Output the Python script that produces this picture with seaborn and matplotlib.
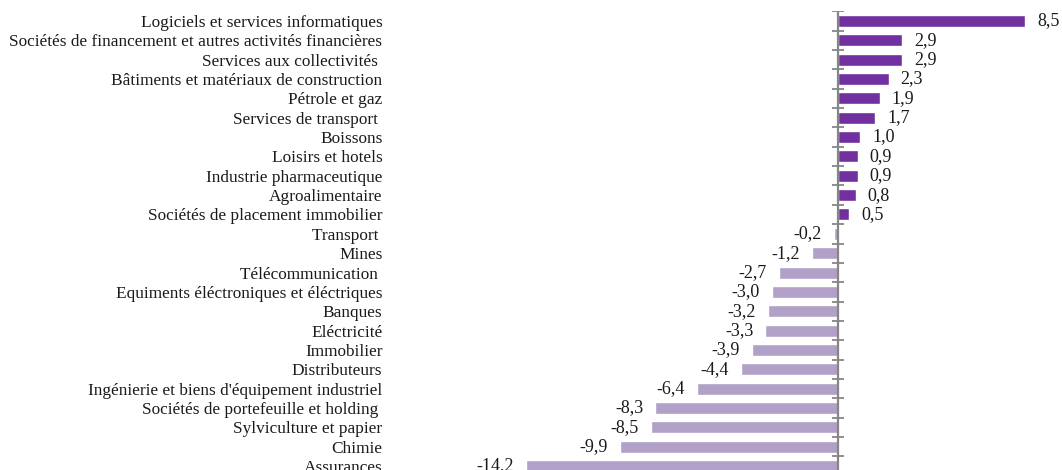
import matplotlib
matplotlib.use("Agg")
import matplotlib.pyplot as plt
import seaborn as sns
import pandas as pd
import numpy as np

sectors = [
    "Logiciels et services informatiques",
    "Sociétés de financement et autres activités financières",
    "Services aux collectivités ",
    "Bâtiments et matériaux de construction",
    "Pétrole et gaz",
    "Services de transport ",
    "Boissons",
    "Loisirs et hotels",
    "Industrie pharmaceutique",
    "Agroalimentaire",
    "Sociétés de placement immobilier",
    "Transport ",
    "Mines",
    "Télécommunication ",
    "Equiments éléctroniques et éléctriques",
    "Banques",
    "Eléctricité",
    "Immobilier",
    "Distributeurs",
    "Ingénierie et biens d'équipement industriel",
    "Sociétés de portefeuille et holding ",
    "Sylviculture et papier",
    "Chimie",
    "Assurances",
]
variation = [8.5, 2.9, 2.9, 2.3, 1.9, 1.7, 1.0, 0.9, 0.9, 0.8, 0.5,
             -0.2, -1.2, -2.7, -3.0, -3.2, -3.3, -3.9, -4.4, -6.4,
             -8.3, -8.5, -9.9, -14.2]

POS_COLOR = "#7030A0"
NEG_COLOR = "#B1A0C7"
AXIS_COLOR = "#868686"

df = pd.DataFrame({"secteur": sectors, "variation": variation})
df["signe"] = np.where(df["variation"] >= 0, "pos", "neg")

sns.set_style("white")
plt.rcParams["font.family"] = ["Liberation Serif", "DejaVu Serif"]

W, H = 1062, 470
fig = plt.figure(figsize=(W / 100, H / 100), dpi=100)
# axes placed in pixel terms; the bottom row runs slightly past the figure edge
left_px, right_px = 388, 1062
top_px, bottom_px = 11.3, 475.7
ax = fig.add_axes([left_px / W, (H - bottom_px) / H,
                   (right_px - left_px) / W, (bottom_px - top_px) / H])

sns.barplot(data=df, x="variation", y="secteur", hue="signe",
            palette={"pos": POS_COLOR, "neg": NEG_COLOR},
            dodge=False, width=0.62, legend=False, ax=ax, orient="h",
            saturation=1)

px_per_unit = 22.0
ax.set_xlim((left_px - 838) / px_per_unit, (right_px - 838) / px_per_unit)
ax.set_ylim(len(sectors) - 0.5, -0.5)

for s in ax.spines.values():
    s.set_visible(False)
ax.set_xticks([])
ax.set_xlabel("")
ax.set_ylabel("")
ax.tick_params(axis="y", length=0, pad=4, labelsize=12.4, labelcolor="#1a1a1a")

# zero axis line with category separators
ax.axvline(0, color=AXIS_COLOR, lw=1.6, zorder=3)
bounds = np.arange(len(sectors) + 1) - 0.5
ax.plot(np.zeros_like(bounds), bounds, linestyle="none", marker="_",
        markersize=9, markeredgewidth=1.3, color=AXIS_COLOR, zorder=3,
        clip_on=True)

# value labels with French decimal comma
off = 12 / px_per_unit
for i, v in enumerate(variation):
    txt = f"{v:.1f}".replace(".", ",")
    if v >= 0:
        ax.text(v + off, i, txt, ha="left", va="center", fontsize=13,
                color="#1a1a1a")
    else:
        ax.text(v - off, i, txt, ha="right", va="center", fontsize=13,
                color="#1a1a1a")

fig.savefig("out.png", dpi=100)
